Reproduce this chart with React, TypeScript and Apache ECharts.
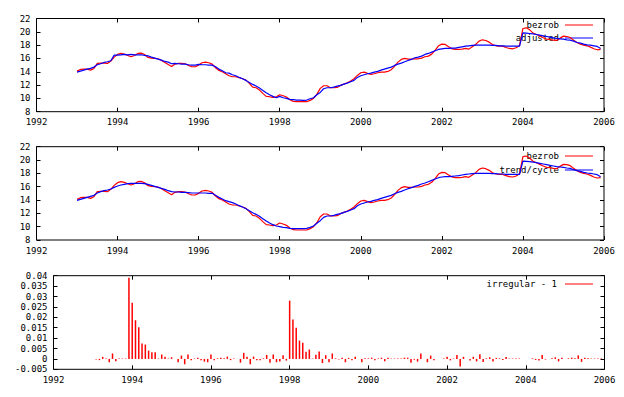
import React, { useEffect, useRef } from "react";
import * as echarts from "echarts";

const startYear = 1993;
const xTicks = [1992, 1994, 1996, 1998, 2000, 2002, 2004, 2006];

const bezrob = [
  14.1, 14.35, 14.4, 14.4, 14.25, 14.5, 15.25, 15.3, 15.3, 15.25, 15.6, 16.2,
  16.6, 16.75, 16.65, 16.45, 16.25, 16.45, 16.75, 16.8, 16.6, 16.15, 16.05, 16.0,
  15.95, 15.7, 15.4, 15.1, 14.8, 15.15, 15.25, 15.25, 15.2, 14.95, 14.75, 14.75,
  15.0, 15.35, 15.45, 15.35, 15.15, 14.6, 14.2, 14.0, 13.7, 13.4, 13.25, 13.25,
  13.1, 12.95, 12.75, 12.25, 11.7, 11.6, 11.25, 10.75, 10.3, 10.25, 10.15, 10.25,
  10.55, 10.4, 10.2, 9.8, 9.55, 9.5, 9.5, 9.5, 9.5, 9.7, 10.0, 10.6,
  11.5, 11.9, 11.9, 11.6, 11.6, 11.65, 11.95, 12.15, 12.35, 12.6, 12.95, 13.45,
  13.85, 13.95, 13.75, 13.6, 13.7, 13.85, 13.95, 13.95, 14.05, 14.3, 14.8, 15.45,
  15.85, 16.0, 15.9, 15.9, 15.95, 15.95, 16.05, 16.25, 16.35, 16.65, 17.2, 17.9,
  18.15, 18.1, 17.75, 17.45, 17.35, 17.35, 17.4, 17.5, 17.4, 17.75, 18.1, 18.6,
  18.8, 18.7, 18.45, 18.1, 17.9, 17.85, 17.85, 17.65, 17.5, 17.45, 17.6, 17.95,
  20.5, 20.6, 20.3, 19.8, 19.6, 19.35, 19.1, 18.9, 18.85, 18.75, 18.7, 19.05,
  19.35, 19.3, 19.15, 18.75, 18.4, 18.15, 18.0, 17.9, 17.7, 17.45, 17.3, 17.35,
];

const adjusted = [
  13.95, 14.1, 14.25, 14.4, 14.5, 14.7, 15.05, 15.2, 15.4, 15.5, 15.65, 16.5,
  16.5, 16.55, 16.6, 16.55, 16.6, 16.55, 16.55, 16.55, 16.45, 16.4, 16.2, 16.05,
  15.9, 15.75, 15.55, 15.45, 15.2, 15.25, 15.2, 15.15, 15.15, 15.05, 15.0, 15.0,
  15.1, 15.05, 15.05, 15.0, 15.0, 14.75, 14.4, 14.15, 13.85, 13.8, 13.55, 13.4,
  13.15, 12.95, 12.7, 12.4, 12.1, 11.85, 11.55, 11.2, 10.85, 10.55, 10.3, 10.1,
  10.3, 10.1, 10.0, 9.85, 9.8, 9.75, 9.75, 9.7, 9.75, 9.95, 10.1, 10.55,
  10.9, 11.45, 11.6, 11.6, 11.7, 11.85, 11.95, 12.15, 12.3, 12.5, 12.7, 13.15,
  13.4, 13.55, 13.7, 13.8, 13.95, 14.05, 14.25, 14.4, 14.55, 14.7, 14.95, 15.15,
  15.3, 15.5, 15.7, 15.85, 16.1, 16.2, 16.35, 16.6, 16.75, 16.95, 17.15, 17.35,
  17.45, 17.5, 17.5, 17.55, 17.55, 17.65, 17.75, 17.85, 17.9, 17.95, 18.0, 18.0,
  18.0, 18.0, 18.0, 17.95, 17.95, 17.9, 17.9, 17.85, 17.85, 17.85, 17.85, 17.85,
  19.85, 19.8, 19.75, 19.7, 19.6, 19.5, 19.4, 19.3, 19.2, 19.1, 19.0, 18.95,
  18.9, 18.8, 18.75, 18.6, 18.4, 18.3, 18.15, 18.05, 18.0, 17.9, 17.8, 17.5,
];

const trendCycle = [
  13.95, 14.1, 14.25, 14.4, 14.55, 14.7, 15.05, 15.25, 15.4, 15.5, 15.65, 15.9,
  16.1, 16.25, 16.35, 16.45, 16.5, 16.5, 16.5, 16.5, 16.45, 16.35, 16.2, 16.05,
  15.9, 15.75, 15.6, 15.4, 15.25, 15.2, 15.2, 15.15, 15.15, 15.1, 15.05, 15.05,
  15.05, 15.05, 15.05, 15.0, 15.0, 14.7, 14.4, 14.15, 13.9, 13.75, 13.6, 13.4,
  13.15, 12.95, 12.7, 12.4, 12.1, 11.85, 11.55, 11.2, 10.85, 10.55, 10.3, 10.1,
  10.0, 9.9, 9.85, 9.75, 9.7, 9.7, 9.7, 9.7, 9.75, 9.9, 10.1, 10.5,
  10.9, 11.4, 11.6, 11.6, 11.7, 11.85, 11.95, 12.15, 12.3, 12.5, 12.7, 13.15,
  13.4, 13.55, 13.7, 13.8, 13.95, 14.05, 14.25, 14.4, 14.55, 14.7, 14.95, 15.15,
  15.3, 15.5, 15.7, 15.85, 16.05, 16.2, 16.4, 16.55, 16.75, 16.95, 17.15, 17.35,
  17.45, 17.5, 17.5, 17.55, 17.6, 17.65, 17.75, 17.85, 17.9, 17.95, 18.0, 18.0,
  18.0, 18.0, 18.0, 17.95, 17.95, 17.9, 17.9, 17.85, 17.85, 17.85, 17.85, 17.85,
  19.85, 19.8, 19.75, 19.7, 19.6, 19.5, 19.4, 19.3, 19.2, 19.1, 19.0, 18.95,
  18.9, 18.8, 18.75, 18.55, 18.4, 18.3, 18.15, 18.05, 18.0, 17.9, 17.8, 17.5,
];

const irregular = [
  0, -0.0003, -0.0006, 0.001, 0.0002, -0.0016, 0.0026, -0.0011, 0.0002, 0.0002, 0.0002, 0.039,
  0.027, 0.0186, 0.0152, 0.0074, 0.0069, 0.004, 0.0032, 0.0032, 0.0002, 0.0021, 0.001, 0.0002,
  0.0008, 0, -0.0016, 0.0016, -0.0026, 0.0021, -0.0006, 0.0002, 0.0006, -0.0006, -0.0013, -0.0016,
  0.0021, -0.0006, 0.0003, 0.0006, 0.0003, 0.0011, -0.0006, 0.0002, 0, -0.0018, 0.0029, 0.001,
  -0.0026, 0.0011, -0.0006, -0.0006, 0.0003, 0.0019, -0.0018, 0.0021, -0.0016, -0.0012, 0.0017, -0.0008,
  0.028, 0.019, 0.015, 0.0088, 0.0078, 0.0034, 0.0045, 0.0002, 0.002, 0.0035, -0.002, 0.0018,
  -0.0016, 0.0026, 0.0003, -0.0003, 0.0005, -0.0016, 0.0005, -0.0007, 0.001, 0, -0.0016, 0.0003,
  0.0003, 0.0006, -0.0007, 0.0002, 0.0006, -0.0011, 0.0005, 0.0002, 0.0002, 0.0002, 0.0002, 0.0006,
  0.0006, -0.0019, -0.0004, -0.0013, 0.0026, 0, -0.0016, 0.0016, -0.0007, 0, 0, 0.0002,
  0.001, -0.0007, 0.0002, 0.0019, -0.0037, 0.001, 0, -0.0008, 0.001, -0.0012, 0.0022, -0.0015,
  0.0003, 0.0008, -0.0012, 0.0005, 0.0003, -0.0005, 0.0009, 0.0002, 0.0002, 0.0002, 0.0002, 0,
  0, 0, 0.0003, -0.0005, -0.0008, 0.0019, -0.0003, 0, 0.0003, 0.0008, -0.0012, 0.0006,
  0, 0.0003, 0.0006, 0.0003, 0.0017, -0.0014, 0.0005, 0.0003, 0.0002, 0.0002, 0.0002, 0.0002,
];

const FONT = "DejaVu Sans Mono";
const RED = "#ff0000";
const BLUE = "#0000ff";

const toPairs = (arr: number[]) => arr.map((v, i) => [startYear + i / 12, v]);

function xAxes(gridIndex: number) {
  const base = {
    type: "value" as const,
    gridIndex,
    min: xTicks[0],
    max: xTicks[xTicks.length - 1],
    interval: 2,
    axisLine: { show: false, onZero: false },
    splitLine: { show: false },
    axisTick: { show: true, inside: true, length: 4, lineStyle: { color: "#000" } },
  };
  return [
    {
      ...base,
      position: "bottom",
      axisLabel: { show: true, margin: 6, color: "#000", fontFamily: FONT, fontSize: 9, formatter: (v: number) => String(Math.round(v)) },
    },
    { ...base, position: "top", axisLabel: { show: false } },
  ];
}

function yAxes(gridIndex: number, min: number, max: number, interval: number, fmt: (v: number) => string) {
  const base = {
    type: "value" as const,
    gridIndex,
    min,
    max,
    interval,
    axisLine: { show: false, onZero: false },
    splitLine: { show: false },
    axisTick: { show: true, inside: true, length: 4, lineStyle: { color: "#000" } },
  };
  return [
    {
      ...base,
      position: "left",
      axisLabel: { show: true, margin: 6, color: "#000", fontFamily: FONT, fontSize: 9, formatter: fmt },
    },
    { ...base, position: "right", axisLabel: { show: false } },
  ];
}

function legendItem(text: string, color: string, y: number, textRight: number) {
  return [
    {
      type: "text",
      x: textRight,
      y,
      style: { text, fill: "#000", font: `9px '${FONT}'`, textAlign: "right", textVerticalAlign: "middle" },
    },
    {
      type: "line",
      shape: { x1: 565, y1: y, x2: 593, y2: y },
      style: { stroke: color, lineWidth: 1 },
    },
  ];
}

export default function App() {
  const ref = useRef<HTMLDivElement>(null);
  useEffect(() => {
    if (!ref.current) return;
    const chart = echarts.init(ref.current, null, { renderer: "svg" });
    const gridBase = { show: true, borderColor: "#000", borderWidth: 1, backgroundColor: "transparent", containLabel: false };
    const option = {
      animation: false,
      backgroundColor: "#fff",
      grid: [
        { ...gridBase, left: 36.5, right: 20, top: 18.5, height: 93.2 },
        { ...gridBase, left: 36.5, right: 20, top: 146.7, height: 93.3 },
        { ...gridBase, left: 53.5, right: 19.5, top: 275.7, height: 93.6 },
      ],
      xAxis: [...xAxes(0), ...xAxes(1), ...xAxes(2)],
      yAxis: [
        ...yAxes(0, 8, 22, 2, (v) => String(Math.round(v))),
        ...yAxes(1, 8, 22, 2, (v) => String(Math.round(v))),
        ...yAxes(2, -0.005, 0.04, 0.005, (v) => String(+v.toFixed(3))),
      ],
      series: [
        {
          name: "bezrob",
          type: "line",
          xAxisIndex: 0,
          yAxisIndex: 0,
          data: toPairs(bezrob),
          showSymbol: false,
          symbol: "none",
          lineStyle: { color: RED, width: 1.2 },
        },
        {
          name: "adjusted",
          type: "line",
          xAxisIndex: 0,
          yAxisIndex: 0,
          data: toPairs(adjusted),
          showSymbol: false,
          symbol: "none",
          lineStyle: { color: BLUE, width: 1.2 },
        },
        {
          name: "bezrob ",
          type: "line",
          xAxisIndex: 2,
          yAxisIndex: 2,
          data: toPairs(bezrob),
          showSymbol: false,
          symbol: "none",
          lineStyle: { color: RED, width: 1.2 },
        },
        {
          name: "trend/cycle",
          type: "line",
          xAxisIndex: 2,
          yAxisIndex: 2,
          data: toPairs(trendCycle),
          showSymbol: false,
          symbol: "none",
          lineStyle: { color: BLUE, width: 1.2 },
        },
        {
          name: "irregular - 1",
          type: "bar",
          xAxisIndex: 4,
          yAxisIndex: 4,
          data: toPairs(irregular),
          barWidth: 1.5,
          itemStyle: { color: RED },
        },
      ],
      graphic: [
        ...legendItem("bezrob", RED, 25, 559),
        ...legendItem("adjusted", BLUE, 38, 559),
        ...legendItem("bezrob", RED, 156, 559),
        ...legendItem("trend/cycle", BLUE, 170, 559),
        ...legendItem("irregular - 1", RED, 284, 557),
      ],
    };
    chart.setOption(option as any);
    return () => chart.dispose();
  }, []);
  return (
    <div
      ref={ref}
      style={{ position: "absolute", left: 0, top: 0, width: 624, height: 397, background: "#fff" }}
    />
  );
}
